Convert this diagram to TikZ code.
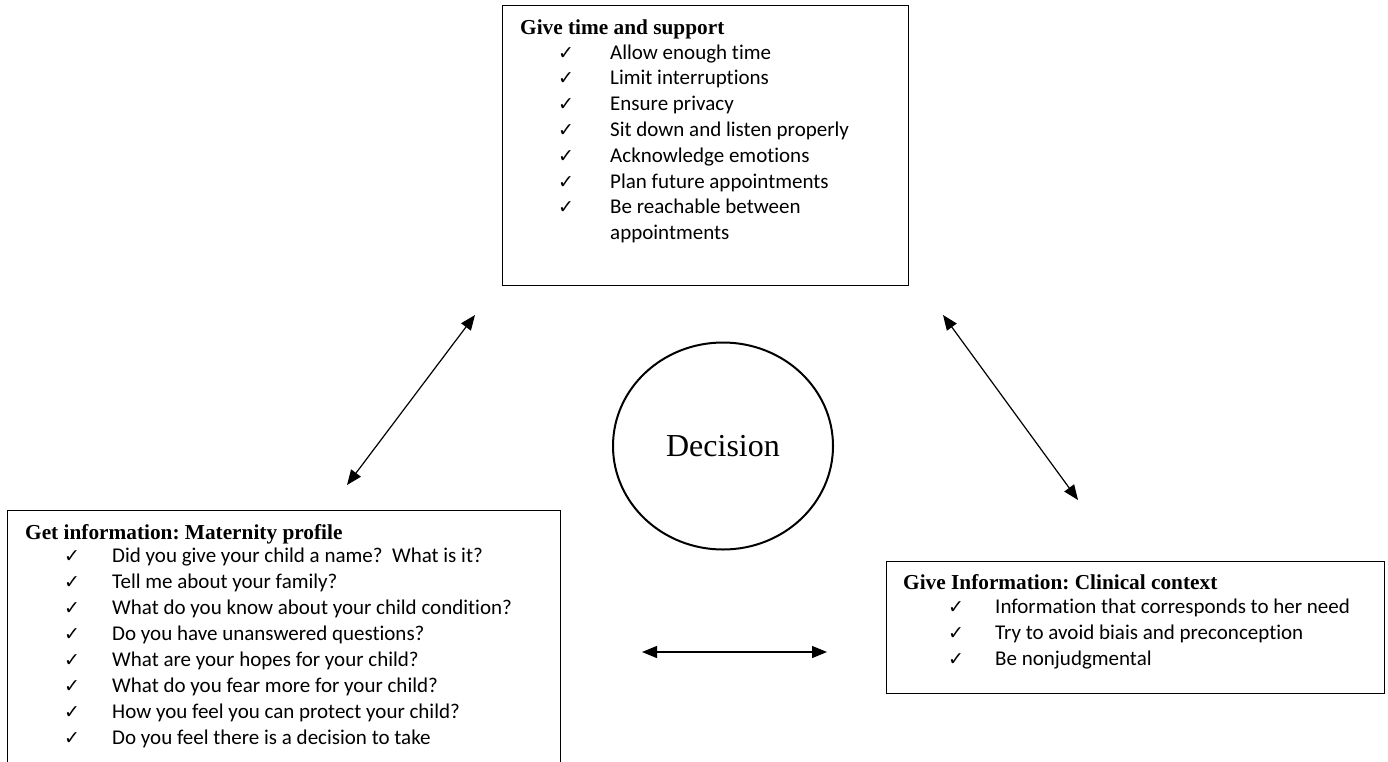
\documentclass[tikz,border=0pt]{standalone}
\usepackage{fontspec}
\setmainfont{Liberation Serif}
\newfontfamily\itmfam[Ligatures=NoCommon]{Carlito}
\newfontfamily\chkfam{DejaVu Sans}
\usetikzlibrary{shapes.geometric,arrows.meta}
\frenchspacing
\begin{document}
\begin{tikzpicture}[x=1pt,y=-1pt,
  box/.style={draw, line width=1.3pt, rectangle, anchor=north west, inner sep=0pt},
  ttl/.style={anchor=base west, inner sep=0pt, font=\bfseries\fontsize{21.3}{25}\selectfont},
  itm/.style={anchor=base west, inner sep=0pt, font=\itmfam\fontsize{21}{25.8}\selectfont},
  chk/.style={anchor=base west, inner sep=0pt, font=\chkfam\fontsize{19}{22}\selectfont},
  dbl/.style={{Triangle[length=15pt,width=12pt]}-{Triangle[length=15pt,width=12pt]}, line width=1.2pt}]
\useasboundingbox (0,0) rectangle (1388,761);
\clip (0,0) rectangle (1388,761);
\fill[white] (0,0) rectangle (1388,761);

% top box
\node[box, minimum width=406pt, minimum height=280pt] (topbox) at (502,5) {};
\node[ttl] (tt) at (520,34) {Give time and support};
\foreach \t [count=\i from 0] in {Allow enough time, Limit interruptions, Ensure privacy, Sit down and listen properly, Acknowledge emotions, Plan future appointments, Be reachable between}{
  \node[chk] (tc\i) at (558,{59+25.8*\i}) {✓};
  \node[itm] (ti\i) at (610,{59+25.8*\i}) {\t};
}
\node[itm] (ti7) at (610,{59+25.8*7}) {appointments};

% left box
\node[box, minimum width=553pt, minimum height=300pt] (leftbox) at (7,510) {};
\node[ttl] (lt) at (25,539) {Get information: Maternity profile};
\foreach \t [count=\i from 0] in {Did you give your child a name?\ \ What is it?, Tell me about your family?, What do you know about your child condition?, Do you have unanswered questions?, What are your hopes for your child?, What do you fear more for your child?, How you feel you can protect your child?, Do you feel there is a decision to take}{
  \node[chk] (lc\i) at (64,{562+26*\i}) {✓};
  \node[itm] (li\i) at (112,{562+26*\i}) {\t};
}

% right box
\node[box, minimum width=498pt, minimum height=132pt] (rightbox) at (886,561) {};
\node[ttl] (rt) at (903,589) {Give Information: Clinical context};
\foreach \t [count=\i from 0] in {Information that corresponds to her need, Try to avoid biais and preconception, Be nonjudgmental}{
  \node[chk] (rc\i) at (948,{613+26*\i}) {✓};
  \node[itm] (ri\i) at (995,{613+26*\i}) {\t};
}

% decision
\node[draw, ellipse, line width=2pt, minimum width=220pt, minimum height=207pt, inner sep=0pt,
      font=\fontsize{32}{36}\selectfont] (dec) at (723,446) {Decision};

% arrows
\coordinate (a1) at (475,315);
\coordinate (a2) at (347,485);
\coordinate (b1) at (943,315);
\coordinate (b2) at (1078,500);
\coordinate (c1) at (642,652);
\coordinate (c2) at (827,652);
\draw[dbl] (a1) -- (a2);
\draw[dbl] (b1) -- (b2);
\draw[dbl] (c1) -- (c2);
\end{tikzpicture}
\end{document}
